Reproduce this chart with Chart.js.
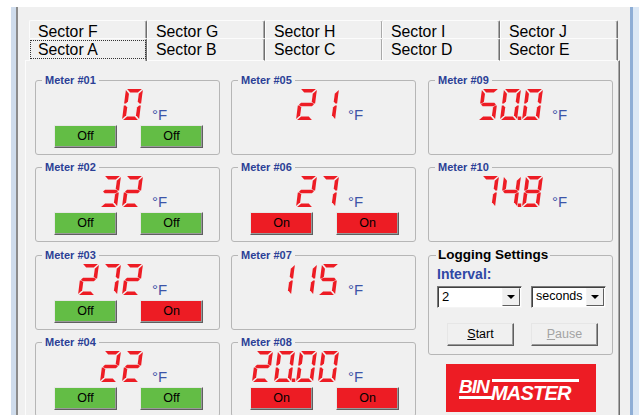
<!DOCTYPE html>
<html>
<head>
<meta charset="utf-8">
<script src="https://cdn.jsdelivr.net/npm/chart.js@4.4.1/dist/chart.umd.min.js"></script>
<style>
  body { margin: 0; width: 639px; height: 415px; overflow: hidden; position: relative;
         background: #f0f0f0; font-family: Arial, "Liberation Sans", sans-serif; }
  .abs { position: absolute; box-sizing: border-box; }
  .tab { background: #f0f0f0; border-top: 1px solid #fcfcfc; border-left: 1px solid #fcfcfc;
         border-right: 1px solid #6f6f6f; box-shadow: inset -1px 0 #a9a9a9; border-radius: 2px 2px 0 0; }
  .tabtxt { font-size: 15.8px; line-height: 20px; color: #000; white-space: nowrap; }
  .box { border: 1px solid #b6b6b6; border-radius: 3px; }
  .title { font-size: 11px; font-weight: bold; color: #2b3f96; background: #f0f0f0;
           padding: 0 3px; line-height: 14px; white-space: nowrap; }
  .unit { font-size: 15px; line-height: 14px; color: #3c55a8; }
  .btn { border: 1px solid; border-color: #e6e6e6 #5f5f5f #5f5f5f #e6e6e6;
         box-shadow: inset -1px -1px #9a9a9a; font-size: 12.5px; text-align: center; color: #000; }
  .combo { background: #fff; border: 1px solid; border-color: #7a7a7a #f4f4f4 #f4f4f4 #7a7a7a;
           box-shadow: inset 1px 1px #404040; font-size: 13px; }
  .arrow { background: #f0f0f0; border: 1px solid; border-color: #f4f4f4 #5f5f5f #5f5f5f #f4f4f4; }
</style>
</head>
<body>
<script>
// tab strip
const tabsBack = ["Sector F", "Sector G", "Sector H", "Sector I", "Sector J"];
const tabsFront = ["Sector A", "Sector B", "Sector C", "Sector D", "Sector E"];

// meters: names, readings, decimals shown, switch states
const meterNames = ["Meter #01", "Meter #02", "Meter #03", "Meter #04", "Meter #05",
                    "Meter #06", "Meter #07", "Meter #08", "Meter #09", "Meter #10"];
const meterValues = [0, 32, 272, 22, 21, 27, 115, 20.0, 50.0, 74.8];
const meterDecimals = [0, 0, 0, 0, 0, 0, 0, 2, 1, 1];
const unitLabel = "°F";
const switchA = ["Off", "Off", "Off", "Off", null, "On", null, "On", null, null];
const switchB = ["Off", "Off", "On", "Off", null, "On", null, "On", null, null];

// logging panel
const intervalValue = "2";
const intervalUnit = "seconds";

const ON_RED = "#ed1c24";
const OFF_GREEN = "#63bd45";

const put = (cls, text, css) => {
  const d = document.createElement("div");
  d.className = "abs " + (cls || "");
  if (text != null) d.textContent = text;
  Object.assign(d.style, css);
  document.body.appendChild(d);
  return d;
};

// window frame
put("", null, { left: "0px", top: "0px", width: "639px", height: "7px", background: "#fff" });
put("", null, { left: "0px", top: "0px", width: "11px", height: "415px", background: "#fff" });
put("", null, { left: "11px", top: "7px", width: "5px", height: "408px", background: "#cfdcec" });
put("", null, { left: "16px", top: "7px", width: "2px", height: "408px", background: "#8c8c8c" });
put("", null, { left: "630px", top: "7px", width: "3px", height: "408px", background: "#8eaed6" });
put("", null, { left: "633px", top: "7px", width: "6px", height: "408px", background: "#dce8f5" });

// panel edge
put("", null, { left: "25px", top: "60px", width: "595px", height: "360px",
  borderTop: "1px solid #fcfcfc", borderLeft: "1px solid #fcfcfc",
  borderRight: "1px solid #6f6f6f", boxShadow: "inset -1px 0 #a9a9a9" });

// tabs
const tabX = [29, 147, 265, 382, 500];
tabsBack.forEach((t, i) => {
  put("tab", null, { left: tabX[i] + "px", top: "20px", width: "118px", height: "18px" });
  put("tabtxt", t, { left: tabX[i] + 9 + "px", top: "22px" });
});
tabsFront.forEach((t, i) => {
  put("tab", null, { left: tabX[i] + "px", top: "38px", width: "118px", height: "23px",
    borderBottom: i === 0 ? "none" : "1px solid #fcfcfc" });
  put("tabtxt", t, { left: tabX[i] + 9 + "px", top: "40px" });
});
put("", null, { left: "30px", top: "40px", width: "116px", height: "19px", border: "1px dotted #333" });

// seven segment readout drawn by a Chart.js plugin
const SEGS = { "0": "abcdef", "1": "bc", "2": "abged", "3": "abgcd", "4": "fgbc",
               "5": "afgcd", "6": "afgedc", "7": "abc", "8": "abcdefg", "9": "abcdfg" };
const DW = 17, DH = 31, T = 3.6, G = 1.1, PITCH = 22, SK = 0.13;

const segShapes = (() => {
  const h2 = DH / 2;
  const mir = (p) => p.map(([x, y]) => [DW - x, y]);
  const f = [[0, G], [T, G + T], [T, h2 - G - T / 2], [T / 2, h2 - G], [0, h2 - G]];
  const e = [[0, h2 + G], [T / 2, h2 + G], [T, h2 + G + T / 2], [T, DH - G - T], [0, DH - G]];
  return {
    a: [[G, 0], [DW - G, 0], [DW - G - T, T], [G + T, T]],
    d: [[G + T, DH - T], [DW - G - T, DH - T], [DW - G, DH], [G, DH]],
    g: [[G, h2], [G + T / 2, h2 - T / 2], [DW - G - T / 2, h2 - T / 2], [DW - G, h2],
        [DW - G - T / 2, h2 + T / 2], [G + T / 2, h2 + T / 2]],
    f: f, e: e, b: mir(f), c: mir(e)
  };
})();

const sevenSeg = {
  id: "sevenSeg",
  afterDraw(chart, args, opts) {
    const ctx = chart.ctx;
    const val = chart.data.datasets[0].data[0];
    const txt = val.toFixed(opts.decimals);
    const n = txt.replace(".", "").length;
    const area = chart.chartArea;
    const width = (n - 1) * PITCH + DW;
    let x = area.right - DH * SK - width - 1;
    const y = area.top + 1;
    ctx.save();
    ctx.fillStyle = opts.color;
    for (const ch of txt) {
      if (ch === ".") {
        ctx.fillRect(x - PITCH + DW + 0.8, y + DH - 3.5, 3.5, 3.5);
        continue;
      }
      for (const s of SEGS[ch]) {
        ctx.beginPath();
        segShapes[s].forEach(([px, py], j) => {
          const X = x + px + (DH - py) * SK, Y = y + py;
          j ? ctx.lineTo(X, Y) : ctx.moveTo(X, Y);
        });
        ctx.closePath();
        ctx.fill();
      }
      x += PITCH;
    }
    ctx.restore();
  }
};

// meter group boxes
const colLeft = [35, 231, 428];
const rowTop = [80, 167, 255, 342];

meterNames.forEach((name, i) => {
  const col = i < 4 ? 0 : i < 8 ? 1 : 2;
  const row = i < 8 ? i % 4 : i - 8;
  const L = colLeft[col], Tp = rowTop[row];
  const unitOff = col === 2 ? 124 : 117;
  put("box", null, { left: L + "px", top: Tp + "px", width: "185px", height: "75px" });
  put("title", name, { left: L + 7 + "px", top: Tp - 7 + "px" });
  put("unit", unitLabel, { left: L + unitOff + "px", top: Tp + 28 + "px" });

  const cv = document.createElement("canvas");
  cv.width = unitOff - 8;
  cv.height = 34;
  cv.className = "abs";
  Object.assign(cv.style, { left: L + "px", top: Tp + 8 + "px" });
  document.body.appendChild(cv);
  new Chart(cv, {
    type: "bar",
    data: {
      labels: [name],
      datasets: [{ data: [meterValues[i]], backgroundColor: "rgba(0,0,0,0)" }]
    },
    options: {
      responsive: false,
      animation: false,
      events: [],
      layout: { padding: 0 },
      plugins: {
        legend: { display: false },
        tooltip: { enabled: false },
        sevenSeg: { decimals: meterDecimals[i], color: ON_RED }
      },
      scales: { x: { display: false }, y: { display: false, min: 0 } }
    },
    plugins: [sevenSeg]
  });

  [switchA[i], switchB[i]].forEach((st, k) => {
    if (!st) return;
    put("btn", st, { left: L + (k ? 105 : 19) + "px", top: Tp + 45 + "px", width: "63px",
      height: "23px", lineHeight: "21px", background: st === "On" ? ON_RED : OFF_GREEN });
  });
});

// logging settings
put("box", null, { left: "428px", top: "255px", width: "185px", height: "100px" });
put("", "Logging Settings", { left: "436px", top: "247px", fontSize: "13.5px", fontWeight: "bold",
  lineHeight: "16px", background: "#f0f0f0", padding: "0 2px", whiteSpace: "nowrap" });
put("", "Interval:", { left: "437px", top: "266px", fontSize: "14px", fontWeight: "bold",
  lineHeight: "16px", color: "#2f48a5" });

put("combo", intervalValue, { left: "437px", top: "286px", width: "85px", height: "22px",
  lineHeight: "19px", paddingLeft: "4px" });
put("arrow", null, { left: "502px", top: "288px", width: "18px", height: "18px" });
put("combo", intervalUnit, { left: "531px", top: "286px", width: "75px", height: "22px",
  lineHeight: "19px", paddingLeft: "4px", fontSize: "12.5px" });
put("arrow", null, { left: "586px", top: "288px", width: "18px", height: "18px" });
[511, 595].forEach((cx) => {
  put("", null, { left: cx - 4 + "px", top: "295px", width: "0px", height: "0px",
    borderLeft: "4px solid transparent", borderRight: "4px solid transparent",
    borderTop: "4px solid #000" });
});

const startBtn = put("btn", null, { left: "447px", top: "323px", width: "67px", height: "23px",
  lineHeight: "21px", background: "#f0f0f0", fontSize: "12.5px" });
startBtn.innerHTML = "<u>S</u>tart";
const pauseBtn = put("btn", null, { left: "531px", top: "323px", width: "67px", height: "23px",
  lineHeight: "21px", background: "#f0f0f0", fontSize: "12.5px", color: "#a3a3a3" });
pauseBtn.innerHTML = "<u>P</u>ause";

// logo
put("", null, { left: "446px", top: "364px", width: "150px", height: "48px", background: ON_RED });
put("", "BIN", { left: "459px", top: "377px", fontSize: "19px", fontWeight: "bold",
  fontStyle: "italic", color: "#fff", lineHeight: "20px", letterSpacing: "-1px" });
put("", null, { left: "459px", top: "396px", width: "34px", height: "3px", background: "#fff" });
put("", null, { left: "492px", top: "379px", width: "87px", height: "3px", background: "#fff" });
put("", "MASTER", { left: "491px", top: "382px", fontSize: "20px", fontWeight: "bold",
  fontStyle: "italic", color: "#fff", lineHeight: "22px", letterSpacing: "-0.8px" });
</script>
</body>
</html>
